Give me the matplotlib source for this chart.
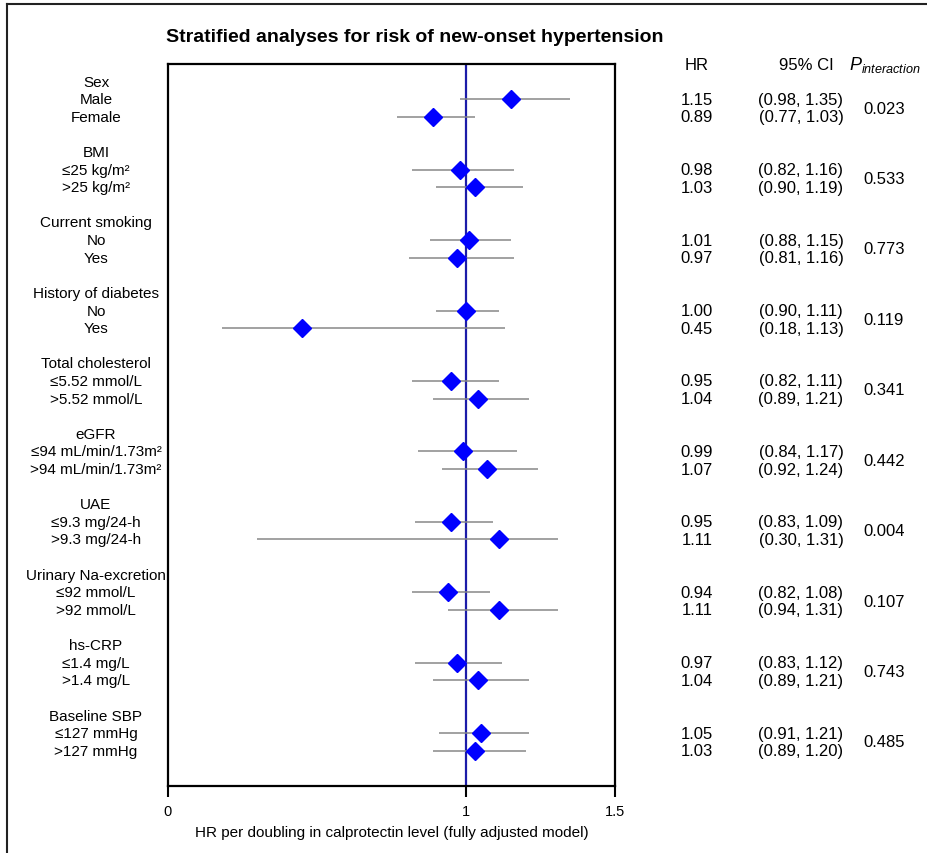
import matplotlib as mpl
mpl.use('Agg')
import matplotlib.pyplot as plt
from matplotlib.lines import Line2D
from matplotlib.transforms import blended_transform_factory
import numpy as np

plt.rcParams['font.family'] = ['Liberation Sans', 'DejaVu Sans']
plt.rcParams['mathtext.fontset'] = 'custom'
plt.rcParams['mathtext.rm'] = 'Liberation Sans'
plt.rcParams['mathtext.it'] = 'Liberation Sans:italic'

# data
groups = ['Sex', 'BMI', 'Current smoking', 'History of diabetes', 'Total cholesterol',
          'eGFR', 'UAE', 'Urinary Na-excretion', 'hs-CRP', 'Baseline SBP']
subgroups = [['Male', 'Female'], ['≤25 kg/m²', '>25 kg/m²'], ['No', 'Yes'], ['No', 'Yes'],
             ['≤5.52 mmol/L', '>5.52 mmol/L'], ['≤94 mL/min/1.73m²', '>94 mL/min/1.73m²'],
             ['≤9.3 mg/24-h', '>9.3 mg/24-h'], ['≤92 mmol/L', '>92 mmol/L'],
             ['≤1.4 mg/L', '>1.4 mg/L'], ['≤127 mmHg', '>127 mmHg']]
hr = [1.15, 0.89, 0.98, 1.03, 1.01, 0.97, 1.00, 0.45, 0.95, 1.04,
      0.99, 1.07, 0.95, 1.11, 0.94, 1.11, 0.97, 1.04, 1.05, 1.03]
ci_low = [0.98, 0.77, 0.82, 0.90, 0.88, 0.81, 0.90, 0.18, 0.82, 0.89,
          0.84, 0.92, 0.83, 0.30, 0.82, 0.94, 0.83, 0.89, 0.91, 0.89]
ci_high = [1.35, 1.03, 1.16, 1.19, 1.15, 1.16, 1.11, 1.13, 1.11, 1.21,
           1.17, 1.24, 1.09, 1.31, 1.08, 1.31, 1.12, 1.21, 1.21, 1.20]
p_int = ['0.023', '0.533', '0.773', '0.119', '0.341', '0.442', '0.004', '0.107', '0.743', '0.485']

fig = plt.figure(figsize=(9.28, 8.54), dpi=100)
ax = fig.add_axes([168 / 928, 1 - 787 / 854, 447 / 928, 722 / 854])

# rows: each group takes 4 rows (header, two subgroups, blank)
ys = []
for g in range(len(groups)):
    ys += [g * 4 + 1, g * 4 + 2]
ys = np.array(ys)

ax.axvline(1, color='#1c1ca8', lw=1.6, zorder=1)
ax.hlines(ys, ci_low, ci_high, color='#888888', lw=1.1, zorder=2)
ax.plot(hr, ys, 'D', color='#0000ff', ms=9.5, mec='#0000ff', zorder=3)

ax.set_xlim(0, 1.5)
ax.set_ylim(40, -1)
ax.set_xticks([0, 1, 1.5])
ax.set_xticklabels(['0', '1', '1.5'])
ax.set_yticks([])
ax.tick_params(axis='x', direction='out', length=8, width=1.5, labelsize=10.5, pad=5)
for s in ax.spines.values():
    s.set_linewidth(1.6)
ax.set_xlabel('HR per doubling in calprotectin level (fully adjusted model)', fontsize=11, labelpad=5)

tr = blended_transform_factory(fig.transFigure, ax.transData)
fs_left = 11
fs_right = 12
for g, name in enumerate(groups):
    y0 = g * 4
    ax.text(96 / 928, y0, name, transform=tr, ha='center', va='center', fontsize=fs_left)
    for k in range(2):
        i = g * 2 + k
        ax.text(96 / 928, y0 + 1 + k, subgroups[g][k], transform=tr, ha='center', va='center', fontsize=fs_left)
        ax.text(697 / 928, y0 + 1 + k, '%.2f' % hr[i], transform=tr, ha='center', va='center', fontsize=fs_right)
        ax.text(801 / 928, y0 + 1 + k, '(%.2f, %.2f)' % (ci_low[i], ci_high[i]), transform=tr,
                ha='center', va='center', fontsize=fs_right)
    ax.text(884 / 928, y0 + 1.5, p_int[g], transform=tr, ha='center', va='center', fontsize=fs_right)

ax.text(697 / 928, -1, 'HR', transform=tr, ha='center', va='center', fontsize=fs_right)
ax.text(806 / 928, -1, '95% CI', transform=tr, ha='center', va='center', fontsize=fs_right)
ax.text(885 / 928, -1, r'$\mathit{P}_{\mathit{interaction}}$', transform=tr, ha='center', va='center', fontsize=13)

fig.text(415 / 928, 1 - 37 / 854, 'Stratified analyses for risk of new-onset hypertension',
         ha='center', va='center', fontsize=14, fontweight='bold')

# frame lines at top and left of the figure
fig.add_artist(Line2D([7 / 928, 1], [1 - 5 / 854, 1 - 5 / 854], transform=fig.transFigure, color='#222222', lw=1.5))
fig.add_artist(Line2D([7 / 928, 7 / 928], [0, 1 - 5 / 854], transform=fig.transFigure, color='#222222', lw=1.5))

plt.savefig('out.png', dpi=100)
